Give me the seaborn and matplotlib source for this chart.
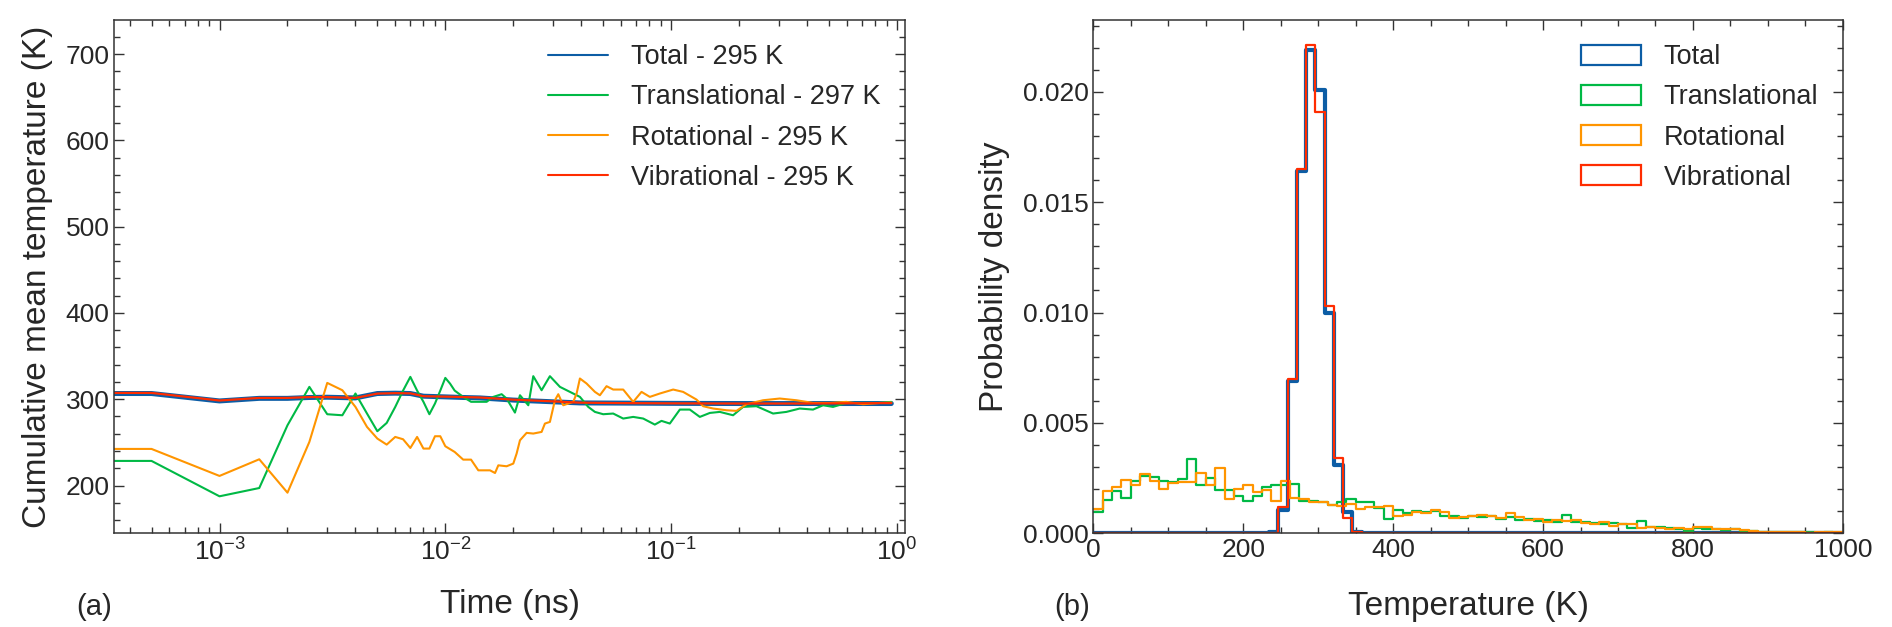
import numpy as np
import matplotlib
matplotlib.use("Agg")
import matplotlib.pyplot as plt
from matplotlib.lines import Line2D
from matplotlib.patches import Patch
from matplotlib.ticker import MultipleLocator, FormatStrFormatter, LogLocator, NullFormatter
import seaborn as sns

# ---- panel (a): cumulative mean temperature vs time ----
series_names = ["Total", "Translational", "Rotational", "Vibrational"]
legend_means = ["295 K", "297 K", "295 K", "295 K"]
colors = ["#0C5DA5", "#00B945", "#FF9500", "#FF2C00"]

time_total = [0, 0.0005, 0.001, 0.0015, 0.002, 0.0025, 0.003, 0.004, 0.005, 0.006,
              0.007, 0.008, 0.01, 0.012, 0.01424, 0.02, 0.03, 0.0394, 0.06, 0.1,
              0.2, 0.4, 0.944]
temp_total = [306.6, 306.6, 298.0, 301.0, 301.0, 302.0, 302.3, 301.5, 306.6, 307.0,
              306.6, 303.5, 302.7, 302.0, 301.5, 299.0, 297.0, 295.7, 295.5, 295.2,
              295.0, 295.0, 295.0]
temp_vib = [307.3, 307.3, 298.5, 301.5, 301.5, 302.5, 302.5, 301.5, 306.5, 307.0,
            306.8, 303.5, 303.0, 302.5, 302.0, 299.5, 297.5, 296.0, 295.5, 295.2,
            295.0, 295.0, 295.5]

time_trans = [0, 0.0005, 0.001, 0.0015, 0.002, 0.0025, 0.003, 0.0035, 0.004, 0.0045,
              0.005, 0.0055, 0.006, 0.0065, 0.007, 0.0075, 0.008, 0.0085, 0.009, 0.0095,
              0.01, 0.0105, 0.011, 0.012, 0.013, 0.014, 0.01524, 0.01632, 0.01776, 0.01868,
              0.02034, 0.02141, 0.02331, 0.02452, 0.02669, 0.02905, 0.03218, 0.03563, 0.03945,
              0.04295, 0.04597, 0.05003, 0.05539, 0.06134, 0.06792, 0.07521, 0.08468, 0.09064,
              0.09867, 0.1093, 0.1210, 0.1340, 0.1484, 0.1643, 0.1881, 0.2083, 0.2386, 0.2828,
              0.3239, 0.3711, 0.4250, 0.4708, 0.5212, 0.5970, 0.7076, 0.8385, 0.9443]
temp_trans = [228.5, 228.5, 187.5, 197.1, 269.8, 314.3, 282.6, 281.4, 306.6, 283.4,
              262.9, 272.5, 291.0, 310.0, 325.9, 310.0, 297.0, 282.6, 295.0, 310.0,
              324.7, 318.0, 310.0, 302.7, 297.0, 297.0, 297.0, 302.7, 305.8, 300.8,
              284.5, 304.6, 293.0, 326.7, 310.4, 326.7, 314.3, 308.5, 302.7,
              291.1, 285.3, 282.6, 283.4, 277.6, 279.5, 277.6, 270.6, 274.9,
              271.8, 288.0, 288.0, 279.5, 284.1, 285.3, 281.4, 291.1, 291.9, 283.4,
              285.3, 289.2, 288.0, 293.0, 291.1, 295.7, 295.7, 295.7, 296.9]

time_rot = [0, 0.0005, 0.001, 0.0015, 0.002, 0.0025, 0.003, 0.0035, 0.004, 0.0045,
            0.005, 0.0055, 0.006, 0.0065, 0.007, 0.0075, 0.008, 0.0085, 0.009, 0.0095,
            0.01, 0.011, 0.012, 0.013, 0.014, 0.01577, 0.0166, 0.01717, 0.01868, 0.02,
            0.02069, 0.02141, 0.02291, 0.02452, 0.02669, 0.02761, 0.02905, 0.03058, 0.03164,
            0.03329, 0.03685, 0.03814, 0.03945, 0.04222, 0.04597, 0.04836, 0.05176, 0.05539,
            0.06134, 0.06792, 0.07394, 0.08049, 0.08912, 0.1021, 0.1130, 0.1295, 0.1386,
            0.1535, 0.1758, 0.1946, 0.2156, 0.2554, 0.3027, 0.3587, 0.4250, 0.5037, 0.5970,
            0.7076, 0.8385, 0.9443]
temp_rot = [242.4, 242.4, 211.1, 230.4, 191.7, 250.5, 318.9, 310.4, 291.1, 267.9,
            254.4, 247.4, 256.3, 253.6, 243.5, 256.3, 242.8, 242.8, 257.1, 257.1,
            245.5, 238.9, 230.0, 230.0, 217.6, 217.6, 214.5, 223.4, 222.3, 225.4,
            237.0, 252.4, 261.0, 260.2, 262.1, 271.8, 273.7, 298.8, 305.8,
            293.0, 296.9, 306.6, 324.0, 318.2, 308.5, 304.6, 315.1, 311.2,
            311.2, 296.9, 308.5, 302.7, 306.6, 311.2, 308.5, 299.6, 291.9,
            289.2, 287.2, 286.5, 294.2, 298.8, 300.8, 298.8, 295.7, 295.7, 296.9,
            294.2, 295.7, 296.1]

# ---- panel (b): temperature distributions ----
# translational / rotational share 12.5 K bins over 0-1000 K
trans_density = [0.00098, 0.00153, 0.00190, 0.00160, 0.00239, 0.00258, 0.00255, 0.00239,
                 0.00232, 0.00247, 0.00336, 0.00217, 0.00250, 0.00197, 0.00197, 0.00171,
                 0.00148, 0.00171, 0.00212, 0.00217, 0.00221, 0.00224, 0.00145, 0.00145,
                 0.00140, 0.00130, 0.00140, 0.00155, 0.00140, 0.00140, 0.00115, 0.00065,
                 0.00105, 0.00090, 0.00100, 0.00095, 0.00100, 0.00080, 0.00080, 0.00070,
                 0.00080, 0.00075, 0.00080, 0.00065, 0.00075, 0.00060, 0.00065, 0.00055,
                 0.00060, 0.00050, 0.00085, 0.00050, 0.00050, 0.00045, 0.00040, 0.00045,
                 0.00040, 0.00025, 0.00055, 0.00030, 0.00030, 0.00025, 0.00020, 0.00010,
                 0.00025, 0.00020, 0.00020, 0.00015, 0.00020, 0.00010, 0.00010, 0.00005,
                 0.00008, 0.00005, 0.00008, 0.00004, 0.00005, 0.00003, 0.00004, 0.00003]
rot_density = [0.00108, 0.00190, 0.00212, 0.00242, 0.00220, 0.00267, 0.00235, 0.00203,
               0.00227, 0.00232, 0.00232, 0.00273, 0.00217, 0.00297, 0.00156, 0.00202,
               0.00220, 0.00186, 0.00194, 0.00148, 0.00236, 0.00159, 0.00155, 0.00140,
               0.00140, 0.00130, 0.00125, 0.00135, 0.00110, 0.00120, 0.00120, 0.00125,
               0.00080, 0.00085, 0.00095, 0.00090, 0.00105, 0.00095, 0.00070, 0.00075,
               0.00080, 0.00085, 0.00080, 0.00070, 0.00090, 0.00075, 0.00060, 0.00065,
               0.00050, 0.00060, 0.00055, 0.00060, 0.00045, 0.00040, 0.00050, 0.00035,
               0.00040, 0.00040, 0.00025, 0.00030, 0.00025, 0.00020, 0.00025, 0.00020,
               0.00030, 0.00030, 0.00020, 0.00020, 0.00020, 0.00015, 0.00010, 0.00008,
               0.00005, 0.00006, 0.00004, 0.00005, 0.00003, 0.00004, 0.00005, 0.00005]
# total / vibrational use 81 bins over 0-1000 K; only the peak bins are non-zero
peak_first_bin = 18
total_density = [0.00003, 0.00008, 0.00105, 0.0069, 0.0164, 0.0219, 0.0201, 0.0100,
                 0.0031, 0.00098, 0.00008, 0.00003]
vib_density = [0.0, 0.00002, 0.0012, 0.0070, 0.0165, 0.0221, 0.0191, 0.0103,
               0.0034, 0.0007, 0.00005, 0.0]

wide_edges = np.linspace(0, 1000, 81)
peak_edges = np.linspace(0, 1000, 82)
wide_centers = (wide_edges[:-1] + wide_edges[1:]) / 2
peak_centers = ((peak_edges[:-1] + peak_edges[1:]) / 2)[peak_first_bin:peak_first_bin + len(total_density)]

sns.set_style("ticks")
plt.rcParams["font.family"] = ["Liberation Sans", "DejaVu Sans"]
plt.rcParams["axes.linewidth"] = 1.1

fig = plt.figure(figsize=(18.92, 6.27), dpi=100)
ax1 = fig.add_axes([0.0604, 0.1494, 0.4179, 0.8187])
ax2 = fig.add_axes([0.5779, 0.1494, 0.3961, 0.8187])

# panel (a)
sns.lineplot(x=time_total, y=temp_total, ax=ax1, color=colors[0], linewidth=3.6, estimator=None)
sns.lineplot(x=time_trans, y=temp_trans, ax=ax1, color=colors[1], linewidth=1.5, estimator=None)
sns.lineplot(x=time_rot, y=temp_rot, ax=ax1, color=colors[2], linewidth=1.5, estimator=None)
sns.lineplot(x=time_total, y=temp_vib, ax=ax1, color=colors[3], linewidth=1.6, estimator=None)
ax1.set_xscale("log")
ax1.set_xlim(3.42e-4, 1.085)
ax1.set_ylim(144.6, 739.4)
ax1.xaxis.set_major_locator(LogLocator(base=10, numticks=10))
ax1.xaxis.set_minor_locator(LogLocator(base=10, subs=np.arange(2, 10), numticks=20))
ax1.xaxis.set_minor_formatter(NullFormatter())
ax1.yaxis.set_major_locator(MultipleLocator(100))
ax1.yaxis.set_minor_locator(MultipleLocator(20))
ax1.set_xlabel("Time (ns)", fontsize=24, labelpad=17)
ax1.set_ylabel("Cumulative mean temperature (K)", fontsize=24, labelpad=9)
handles1 = [Line2D([], [], color=c, lw=1.5) for c in colors]
labels1 = [f"{n} - {m}" for n, m in zip(series_names, legend_means)]
ax1.legend(handles1, labels1, loc="upper right", frameon=False, fontsize=19.5,
           handlelength=2.2, handletextpad=0.85, labelspacing=0.52, borderaxespad=0.5)

# panel (b)
sns.histplot(x=peak_centers, weights=total_density, bins=list(peak_edges), element="step",
             fill=False, stat="count", color=colors[0], linewidth=3.0, ax=ax2)
sns.histplot(x=wide_centers, weights=trans_density, bins=list(wide_edges), element="step",
             fill=False, stat="count", color=colors[1], linewidth=1.6, ax=ax2)
sns.histplot(x=wide_centers, weights=rot_density, bins=list(wide_edges), element="step",
             fill=False, stat="count", color=colors[2], linewidth=1.6, ax=ax2)
sns.histplot(x=peak_centers, weights=vib_density, bins=list(peak_edges), element="step",
             fill=False, stat="count", color=colors[3], linewidth=1.6, ax=ax2)
ax2.set_xlim(0, 1000)
ax2.set_ylim(0, 0.02325)
ax2.xaxis.set_major_locator(MultipleLocator(200))
ax2.xaxis.set_minor_locator(MultipleLocator(50))
ax2.yaxis.set_major_locator(MultipleLocator(0.005))
ax2.yaxis.set_minor_locator(MultipleLocator(0.001))
ax2.yaxis.set_major_formatter(FormatStrFormatter("%.3f"))
ax2.set_xlabel("Temperature (K)", fontsize=24, labelpad=21)
ax2.set_ylabel("Probability density", fontsize=24, labelpad=9)
handles2 = [Patch(facecolor="none", edgecolor=c, linewidth=1.6) for c in colors]
ax2.legend(handles2, series_names, loc="upper right", frameon=False, fontsize=19.5,
           handlelength=2.2, handleheight=0.75, handletextpad=0.85, labelspacing=0.52,
           borderaxespad=0.5)

for ax in (ax1, ax2):
    ax.tick_params(which="both", direction="in", top=True, right=True, labelsize=19,
                   width=1.0, color="#333333")
    ax.tick_params(which="major", length=7)
    ax.tick_params(which="minor", length=4)
    for s in ax.spines.values():
        s.set_color("#333333")

fig.text(0.0497, 0.032, "(a)", ha="center", va="center", fontsize=21)
fig.text(0.5666, 0.032, "(b)", ha="center", va="center", fontsize=21)

fig.savefig("out.png", dpi=100)
